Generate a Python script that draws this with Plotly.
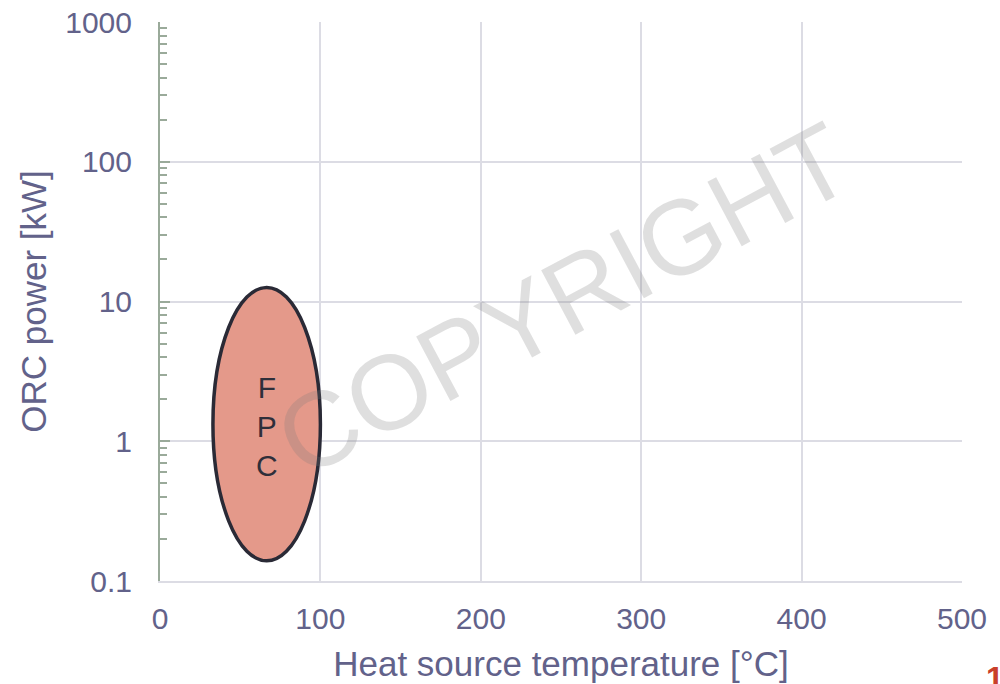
import math
import plotly.graph_objects as go

# ---- data ----
x_range = [0, 500]
y_range = [0.1, 1000]
x_tickvals = [0, 100, 200, 300, 400, 500]
x_ticktext = ["0", "100", "200", "300", "400", "500"]
y_tickvals = [0.1, 1, 10, 100, 1000]
y_ticktext = ["0.1", "1", "10", "100", "1000"]

region_label = "F<br>P<br>C"
region_temp = [33, 100]        # heat source temperature span [°C]
region_power = [0.1395, 12.6]  # ORC power span [kW]
label_pos = [66.7, 1.275]

x_title = "Heat source temperature [°C]"
y_title = "ORC power [kW]"
watermark = "COPYRIGHT"
page_number = "1"

FONT = "Liberation Sans, Arial, sans-serif"
TXT = "#62628a"
AXIS = "#9aaa9a"
GRID = "#dcdce4"

fig = go.Figure()
# invisible trace to instantiate axes
fig.add_trace(go.Scatter(x=[x_range[0]], y=[y_range[0]], mode="markers",
                         marker=dict(opacity=0), hoverinfo="skip", showlegend=False))

fig.add_shape(type="circle", xref="x", yref="y",
              x0=region_temp[0], x1=region_temp[1],
              y0=region_power[0], y1=region_power[1],
              fillcolor="#e4998a", line=dict(color="#2a2a36", width=3.5),
              layer="above")

fig.add_annotation(x=label_pos[0], y=math.log10(label_pos[1]), xref="x", yref="y",
                   text=region_label, showarrow=False,
                   font=dict(family=FONT, size=30, color="#2f2f3a"))

fig.add_annotation(x=0.503, y=0.505, xref="paper", yref="paper",
                   text=watermark, showarrow=False, textangle=-28,
                   font=dict(family=FONT, size=106, color="rgba(120,120,120,0.24)"))

fig.add_annotation(x=1.0274, y=-0.138, xref="paper", yref="paper",
                   xanchor="left", yanchor="top",
                   text="<b>" + page_number + "</b>", showarrow=False,
                   font=dict(family=FONT, size=32, color="#c9402a"))

fig.update_layout(
    width=1000, height=684,
    margin=dict(l=160, r=38, t=22, b=103),
    paper_bgcolor="white", plot_bgcolor="white",
    showlegend=False,
    font=dict(family=FONT, color=TXT),
    xaxis=dict(
        range=x_range, tickvals=x_tickvals, ticktext=x_ticktext,
        automargin=False,
        showgrid=True, gridcolor=GRID, gridwidth=1.5,
        showline=True, linecolor=GRID, linewidth=1.5,
        ticks="", zeroline=False,
        tickfont=dict(family=FONT, size=30, color=TXT),
        ticklabelstandoff=10,
        title=dict(text=x_title, font=dict(family=FONT, size=35, color=TXT), standoff=18),
    ),
    yaxis=dict(
        type="log", range=[math.log10(y_range[0]), math.log10(y_range[1])],
        tickvals=y_tickvals, ticktext=y_ticktext,
        automargin=False,
        showgrid=True, gridcolor=GRID, gridwidth=1.5,
        showline=True, linecolor=AXIS, linewidth=2,
        ticks="inside", ticklen=10, tickwidth=2, tickcolor=AXIS,
        minor=dict(ticks="inside", ticklen=7, tickwidth=2, tickcolor=AXIS,
                   dtick="D1", showgrid=False),
        zeroline=False,
        tickfont=dict(family=FONT, size=30, color=TXT),
        ticklabelstandoff=20,
        title=dict(text=y_title, font=dict(family=FONT, size=35, color=TXT), standoff=8),
    ),
)

fig.write_html("out.html")
